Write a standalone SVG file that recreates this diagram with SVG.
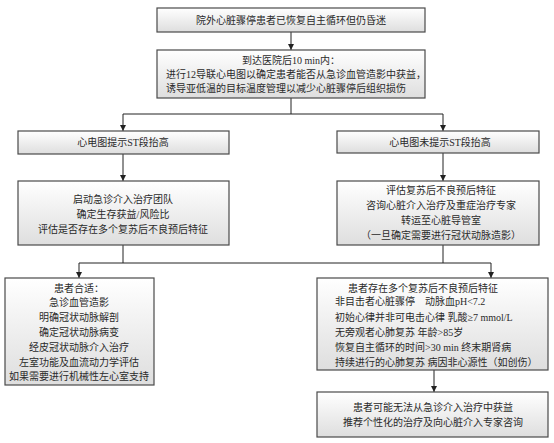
<svg xmlns="http://www.w3.org/2000/svg" width="554" height="443" viewBox="0 0 554 443">
<defs>
<linearGradient id="g" x1="0" y1="0" x2="0" y2="1">
<stop offset="0" stop-color="#ffffff"/>
<stop offset="1" stop-color="#dedede"/>
</linearGradient>
<marker id="ah" viewBox="0 0 6 6" refX="6" refY="3" markerWidth="6" markerHeight="6" markerUnits="userSpaceOnUse" orient="auto">
<path d="M0,0 L6,3 L0,6 z" fill="#222"/>
</marker>
</defs>
<style>
.box{fill:url(#g);stroke:#4a4a4a;stroke-width:1.2}
.t{font-family:"Liberation Serif","Noto Sans CJK SC",serif;font-size:10px;fill:#2a2a2a}
.c{text-anchor:middle}
.ln{fill:none;stroke:#222;stroke-width:1}
</style>
<rect width="554" height="443" fill="#ffffff"/>
<g id="connectors">
<path class="ln" d="M291,32 V50" marker-end="url(#ah)"/>
<path class="ln" d="M291,98 V114 M123,114 H443"/>
<path class="ln" d="M123,114 V131" marker-end="url(#ah)"/>
<path class="ln" d="M443,114 V131" marker-end="url(#ah)"/>
<path class="ln" d="M123,154 V181" marker-end="url(#ah)"/>
<path class="ln" d="M443,153 V181" marker-end="url(#ah)"/>
<path class="ln" d="M123,245 V263 M443,245 V263 M79,263 H491"/>
<path class="ln" d="M79,263 V278" marker-end="url(#ah)"/>
<path class="ln" d="M491,263 V278" marker-end="url(#ah)"/>
<path class="ln" d="M434,370 V392" marker-end="url(#ah)"/>
</g>
<g id="n1">
<rect class="box" x="157" y="8" width="268" height="24"/>
<text class="t c" x="291" y="24">院外心脏骤停患者已恢复自主循环但仍昏迷</text>
</g>
<g id="n2">
<rect class="box" x="157" y="50" width="268" height="48"/>
<text class="t c" x="291" y="64">到达医院后10 min内：</text>
<text class="t" x="166" y="78">进行12导联心电图以确定患者能否从急诊血管造影中获益，</text>
<text class="t" x="166" y="92">诱导亚低温的目标温度管理以减少心脏骤停后组织损伤</text>
</g>
<g id="n3">
<rect class="box" x="18" y="131" width="211" height="23"/>
<text class="t c" x="123" y="146">心电图提示ST段抬高</text>
</g>
<g id="n4">
<rect class="box" x="337" y="131" width="202" height="22"/>
<text class="t c" x="440" y="146">心电图未提示ST段抬高</text>
</g>
<g id="n5">
<rect class="box" x="18" y="181" width="211" height="64"/>
<text class="t c" x="123" y="203">启动急诊介入治疗团队</text>
<text class="t c" x="123" y="218">确定生存获益/风险比</text>
<text class="t c" x="123" y="233">评估是否存在多个复苏后不良预后特征</text>
</g>
<g id="n6">
<rect class="box" x="337" y="181" width="202" height="64"/>
<text class="t c" x="441" y="194">评估复苏后不良预后特征</text>
<text class="t c" x="441" y="209">咨询心脏介入治疗及重症治疗专家</text>
<text class="t c" x="441" y="224">转运至心脏导管室</text>
<text class="t c" x="441" y="239">（一旦确定需要进行冠状动脉造影）</text>
</g>
<g id="n7">
<rect class="box" x="5" y="278" width="149" height="107"/>
<text class="t c" x="79" y="292">患者合适：</text>
<text class="t c" x="79" y="306">急诊血管造影</text>
<text class="t c" x="79" y="321">明确冠状动脉解剖</text>
<text class="t c" x="79" y="336">确定冠状动脉病变</text>
<text class="t c" x="79" y="351">经皮冠状动脉介入治疗</text>
<text class="t c" x="79" y="366">左室功能及血流动力学评估</text>
<text class="t c" x="79" y="380">如果需要进行机械性左心室支持</text>
</g>
<g id="n8">
<rect class="box" x="317" y="278" width="231" height="92"/>
<text class="t" x="348" y="292">患者存在多个复苏后不良预后特征</text>
<text class="t" x="335" y="305">非目击者心脏骤停　动脉血pH&lt;7.2</text>
<text class="t" x="335" y="321">初始心律并非可电击心律 乳酸≥7 mmol/L</text>
<text class="t" x="335" y="336">无旁观者心肺复苏 年龄&gt;85岁</text>
<text class="t" x="335" y="351">恢复自主循环的时间&gt;30 min 终末期肾病</text>
<text class="t" x="335" y="366">持续进行的心肺复苏 病因非心源性（如创伤）</text>
</g>
<g id="n9">
<rect class="box" x="317" y="392" width="231" height="45"/>
<text class="t c" x="433" y="411">患者可能无法从急诊介入治疗中获益</text>
<text class="t c" x="433" y="426">推荐个性化的治疗及向心脏介入专家咨询</text>
</g>
</svg>
